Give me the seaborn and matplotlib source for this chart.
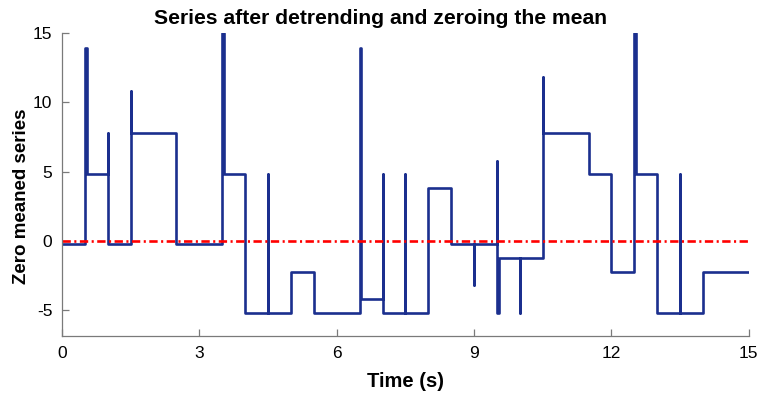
import numpy as np
import pandas as pd
import matplotlib
matplotlib.use("Agg")
import matplotlib.pyplot as plt
import seaborn as sns

# Vertices of the zero-meaned step series (drawn with steps-post)
time_s = [0, 0.5, 0.535, 1.0, 1.0, 1.5, 1.5, 2.5, 3.5, 3.535, 4.0, 4.5, 4.5,
          5.0, 5.5, 6.5, 6.535, 7.0, 7.0, 7.5, 7.5, 8.0, 8.5, 9.0, 9.0, 9.5,
          9.5, 9.535, 10.0, 10.0, 10.5, 10.5, 11.5, 12.0, 12.5, 12.535, 13.0,
          13.5, 13.5, 14.0, 15.0]
series = [-0.2, 13.9, 4.8, 7.8, -0.2, 10.8, 7.8, -0.2, 15.0, 4.8, -5.2, 4.8,
          -5.2, -2.2, -5.2, 13.9, -4.2, 4.8, -5.2, 4.8, -5.2, 3.8, -0.2, -3.2,
          -0.2, 5.8, -5.2, -1.2, -5.2, -1.2, 11.8, 7.8, 4.8, -2.2, 15.0, 4.8,
          -5.2, 4.8, -5.2, -2.2, -2.2]

mean_t = [0, 15]
mean_v = [0, 0]

x_ticks = [0, 3, 6, 9, 12, 15]
y_ticks = [-5, 0, 5, 10, 15]

sns.set_style("white")
plt.rcParams["font.family"] = ["Liberation Sans", "DejaVu Sans"]
plt.rcParams["lines.scale_dashes"] = False
plt.rcParams["text.color"] = "black"
plt.rcParams["axes.labelcolor"] = "black"

fig = plt.figure(figsize=(7.61, 3.96), dpi=100)
ax = fig.add_axes([0.0815, 0.1515, 0.9025, 0.765])

df = pd.DataFrame({"t": time_s, "v": series})
sns.lineplot(data=df, x="t", y="v", sort=False, estimator=None,
             drawstyle="steps-post", color="#1b2f8e", linewidth=1.9, ax=ax)
sns.lineplot(x=mean_t, y=mean_v, color="#ff0000", linewidth=1.9,
             dashes=False, ax=ax, estimator=None)
ax.lines[-1].set_dashes([6, 2.5, 1.5, 2.5])

ax.set_xlim(0, 15)
ax.set_ylim(-6.85, 15)
ax.set_xticks(x_ticks)
ax.set_yticks(y_ticks)
ax.set_xticklabels([str(v) for v in x_ticks])
ax.set_yticklabels([str(v) for v in y_ticks])

for s in ["top", "right"]:
    ax.spines[s].set_visible(False)
for s in ["left", "bottom"]:
    ax.spines[s].set_color("#7a7a7a")
    ax.spines[s].set_linewidth(0.9)
ax.tick_params(bottom=True, left=True, direction="in", length=5, width=0.9,
               color="#7a7a7a", labelsize=12.5, labelcolor="black", pad=7)

ax.set_xlabel("Time (s)", fontsize=14.5, fontweight="bold", labelpad=8,
              color="black")
ax.set_ylabel("Zero meaned series", fontsize=13.5, fontweight="bold",
              color="black")
ax.yaxis.set_label_coords(-0.047, 0.462)
fig.text(0.5, 1 - 18 / 396, "Series after detrending and zeroing the mean",
         fontsize=15.2, fontweight="bold", color="black",
         ha="center", va="center")

fig.savefig("out.png", dpi=100)
